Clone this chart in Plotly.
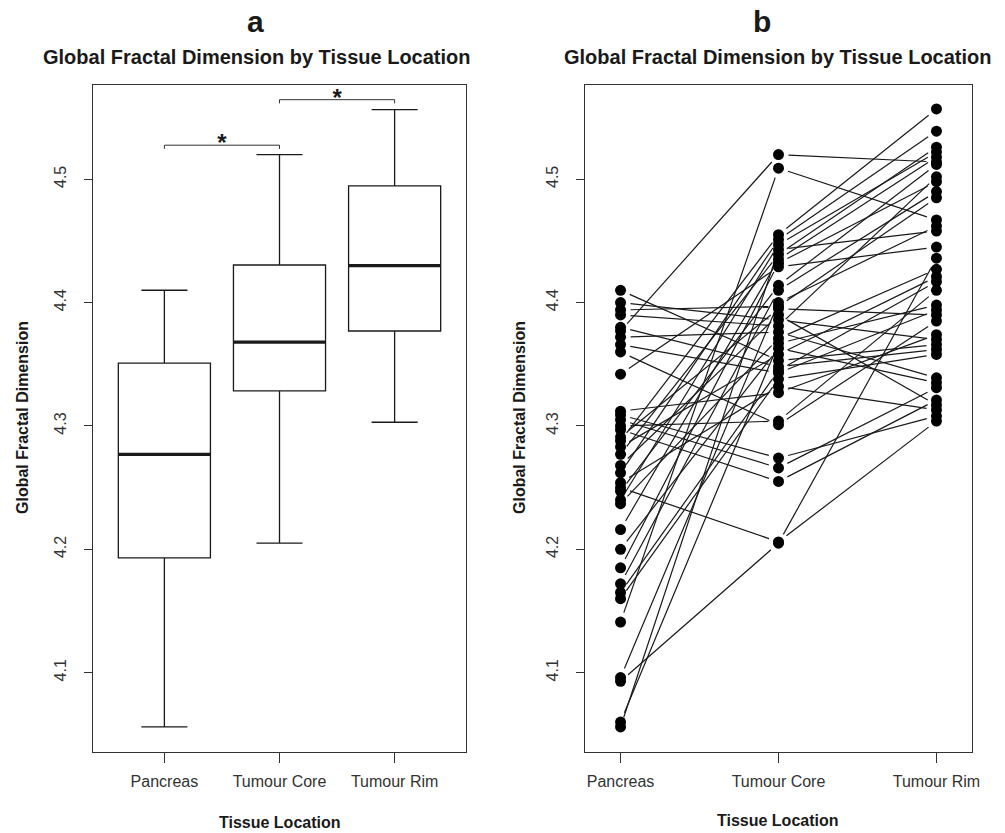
import plotly.graph_objects as go

# ---------------- data ----------------
categories = ["Pancreas", "Tumour Core", "Tumour Rim"]

# panel a: box-plot statistics (R hinges)
box_lower = [4.056, 4.205, 4.303]
box_q1 = [4.193, 4.3285, 4.377]
box_median = [4.277, 4.368, 4.430]
box_q3 = [4.351, 4.4305, 4.4946]
box_upper = [4.410, 4.520, 4.5564]

# significance brackets (group index pairs and height)
sig_from = [1, 2]
sig_to = [2, 3]
sig_height = [4.5276, 4.5645]
sig_label = ["*", "*"]

# panel b: paired values per patient
pancreas = [4.377, 4.141, 4.342, 4.410, 4.400, 4.394, 4.372, 4.366, 4.380, 4.312,
            4.309, 4.297, 4.305, 4.300, 4.250, 4.093, 4.096, 4.060, 4.056, 4.390,
            4.360, 4.291, 4.288, 4.283, 4.277, 4.268, 4.262, 4.254, 4.247, 4.240,
            4.237, 4.216, 4.200, 4.185, 4.172, 4.165, 4.160]
tumour_core = [4.520, 4.509, 4.429, 4.353, 4.386, 4.397, 4.376, 4.343, 4.348, 4.327,
               4.274, 4.255, 4.266, 4.304, 4.206, 4.205, 4.400, 4.367, 4.443, 4.381,
               4.301, 4.395, 4.455, 4.358, 4.439, 4.390, 4.451, 4.332, 4.414, 4.447,
               4.371, 4.435, 4.363, 4.432, 4.410, 4.345, 4.338]
tumour_rim = [4.514, 4.467, 4.445, 4.366, 4.370, 4.485, 4.339, 4.394, 4.362, 4.374,
              4.308, 4.321, 4.331, 4.410, 4.304, 4.436, 4.462, 4.398, 4.458, 4.502,
              4.385, 4.390, 4.557, 4.421, 4.526, 4.317, 4.539, 4.313, 4.512, 4.522,
              4.427, 4.518, 4.335, 4.498, 4.490, 4.417, 4.358]

y_ticks = [4.1, 4.2, 4.3, 4.4, 4.5]
y_range = [4.0357, 4.5764]
xa_range = [0.38, 3.62]
xb_range = [0.775, 3.225]

# ---------------- layout geometry ----------------
W, H = 1005, 833
ML, MR, MT, MB = 93, 33, 85, 81
PW = W - ML - MR
PH = H - MT - MB
A_RIGHT = 466
B_LEFT = 585
dom_a = [0, (A_RIGHT - ML) / PW]
dom_b = [(B_LEFT - ML) / PW, 1]


def xp(px):
    return (px - ML) / PW


def yp(py):
    return (H - MB - py) / PH


FONT = "Liberation Sans, Arial, Helvetica, sans-serif"
INK = "#1a1a1a"
AX = "#333333"

fig = go.Figure()

pos = [i + 1 for i in range(len(categories))]

# ---- panel a ----
fig.add_trace(go.Box(
    x=pos, q1=box_q1, median=box_median, q3=box_q3,
    lowerfence=box_lower, upperfence=box_upper,
    width=0.8, whiskerwidth=0.5, boxpoints=False,
    fillcolor="white", line=dict(color=INK, width=1.3),
    xaxis="x", yaxis="y", hoverinfo="skip", showlegend=False,
))
mx, my = [], []
for p, m in zip(pos, box_median):
    mx += [p - 0.4, p + 0.4, None]
    my += [m, m, None]
fig.add_trace(go.Scatter(x=mx, y=my, mode="lines", line=dict(color=INK, width=3.3),
                         xaxis="x", yaxis="y", hoverinfo="skip", showlegend=False))
bx, by, sx, sy = [], [], [], []
for a, b, h in zip(sig_from, sig_to, sig_height):
    bx += [a, a, b, b, None]
    by += [h - 0.003, h, h, h - 0.003, None]
    sx.append((a + b) / 2)
    sy.append(h)
fig.add_trace(go.Scatter(x=bx, y=by, mode="lines", line=dict(color=AX, width=1),
                         xaxis="x", yaxis="y", hoverinfo="skip", showlegend=False))
fig.add_trace(go.Scatter(x=sx, y=sy, mode="text", text=sig_label, textposition="middle center",
                         textfont=dict(family=FONT, size=24, color=INK, weight="bold"),
                         cliponaxis=False,
                         xaxis="x", yaxis="y", hoverinfo="skip", showlegend=False))

# ---- panel b ----
px_x = (W - MR - B_LEFT) / (xb_range[1] - xb_range[0])
px_y = PH / (y_range[1] - y_range[0])
GAP = 10.0
lx, ly = [], []
for series_a, series_b, xa0 in [(pancreas, tumour_core, 1), (tumour_core, tumour_rim, 2)]:
    for va, vb in zip(series_a, series_b):
        dxp = 1 * px_x
        dyp = (vb - va) * px_y
        L = (dxp ** 2 + dyp ** 2) ** 0.5
        f = GAP / L
        lx += [xa0 + f, xa0 + 1 - f, None]
        ly += [va + f * (vb - va), vb - f * (vb - va), None]
fig.add_trace(go.Scatter(x=lx, y=ly, mode="lines", line=dict(color=INK, width=1.2),
                         xaxis="x2", yaxis="y2", hoverinfo="skip", showlegend=False))
for p, vals in zip(pos, [pancreas, tumour_core, tumour_rim]):
    fig.add_trace(go.Scatter(x=[p] * len(vals), y=vals, mode="markers",
                             marker=dict(color="black", size=11, line=dict(width=0)),
                             xaxis="x2", yaxis="y2", hoverinfo="skip", showlegend=False))

axis_common = dict(showline=True, mirror=True, linecolor=AX, linewidth=1.2,
                   ticks="outside", tickcolor=AX, tickwidth=1,
                   showgrid=False, zeroline=False,
                   tickfont=dict(family=FONT, size=16, color="#333333"))

fig.update_layout(
    width=W, height=H,
    margin=dict(l=ML, r=MR, t=MT, b=MB),
    plot_bgcolor="white", paper_bgcolor="white",
    showlegend=False,
    xaxis=dict(domain=dom_a, range=xa_range, tickvals=pos, ticktext=categories,
               ticklen=10, ticklabelstandoff=5, anchor="y", **axis_common),
    yaxis=dict(domain=[0, 1], range=y_range, tickvals=y_ticks,
               ticktext=[f"{v:.1f}" for v in y_ticks], tickangle=-90,
               ticklen=8, ticklabelstandoff=12, anchor="x", **axis_common),
    xaxis2=dict(domain=dom_b, range=xb_range, tickvals=pos, ticktext=categories,
                ticklen=10, ticklabelstandoff=5, anchor="y2", **axis_common),
    yaxis2=dict(domain=[0, 1], range=y_range, tickvals=y_ticks,
                ticktext=[f"{v:.1f}" for v in y_ticks], tickangle=-90,
                ticklen=8, ticklabelstandoff=12, anchor="x2", **axis_common),
)

ann = []


def text(t, px, py, size, angle=0):
    ann.append(dict(text=t, x=xp(px), y=yp(py), xref="paper", yref="paper",
                    showarrow=False, xanchor="center", yanchor="middle", textangle=angle,
                    font=dict(family=FONT, size=size, color=INK)))


text("<b>a</b>", 255, 22, 30)
text("<b>b</b>", 762, 22, 30)
text("<b>Global Fractal Dimension by Tissue Location</b>", 257, 57, 20)
text("<b>Global Fractal Dimension by Tissue Location</b>", 778, 57, 20)
text("<b>Global Fractal Dimension</b>", 22, 418, 16, -90)
text("<b>Global Fractal Dimension</b>", 519, 418, 16, -90)
text("<b>Tissue Location</b>", 280, 822, 16)
text("<b>Tissue Location</b>", 778, 820, 16)
fig.update_layout(annotations=ann)

fig.write_html("out.html", config={"displayModeBar": False},
               post_script="document.body.style.margin='0';document.body.style.overflow='hidden';")
